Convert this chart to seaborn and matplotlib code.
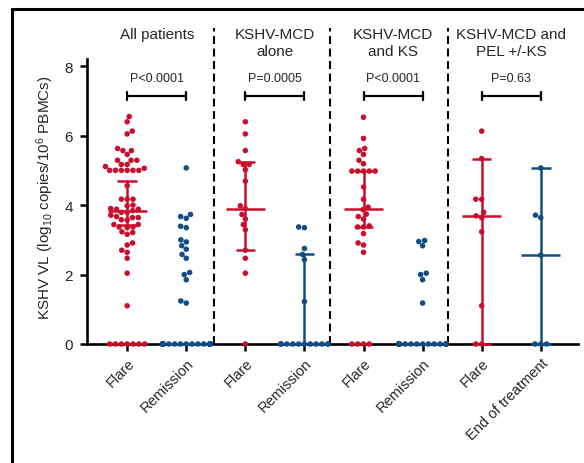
import warnings
import pandas as pd
import matplotlib.pyplot as plt
from matplotlib.lines import Line2D
import seaborn as sns

warnings.filterwarnings("ignore")

# Значения (log10 копий / 10^6 PBMC)
flare_all = [6.55, 6.40, 6.13, 6.05, 5.63, 5.57, 5.57, 5.46, 5.29, 5.29, 5.29,
             5.17, 5.17, 5.11, 5.06, 5.00, 5.00, 5.00, 5.00, 5.00, 5.00, 4.56,
             4.17, 4.17, 4.17, 4.00, 3.98, 3.90, 3.88, 3.88, 3.84, 3.79, 3.79,
             3.71, 3.67, 3.64, 3.64, 3.58, 3.57, 3.44, 3.44, 3.37, 3.37, 3.35,
             3.23, 3.21, 3.16, 2.91, 2.85, 2.70, 2.64, 2.47, 2.04, 1.10,
             0, 0, 0, 0, 0, 0, 0]
rem_all = [5.07, 3.73, 3.67, 3.62, 3.39, 3.35, 3.00, 2.94, 2.83, 2.73, 2.58,
           2.47, 2.06, 2.00, 1.85, 1.24, 1.18] + [0.0] * 44
flare_alone = [6.40, 6.05, 5.57, 5.25, 5.17, 5.17, 5.02, 4.69, 3.98, 3.90,
               3.73, 3.60, 3.44, 3.29, 2.70, 2.47, 2.04, 0.0]
rem_alone = [3.37, 3.35, 2.75, 2.58, 2.43, 1.22] + [0.0] * 12
flare_ks = [6.53, 5.92, 5.63, 5.57, 5.46, 5.29, 5.19, 4.98, 4.98, 4.98, 4.98,
            4.98, 4.52, 4.17, 3.94, 3.87, 3.74, 3.67, 3.60, 3.40, 3.37, 3.37,
            3.18, 2.91, 2.85, 2.64, 0, 0, 0, 0]
rem_ks = [2.98, 2.95, 2.83, 2.04, 2.00, 1.85, 1.18] + [0.0] * 23
flare_pel = [6.13, 5.34, 4.17, 4.17, 3.79, 3.69, 3.64, 3.23, 1.10, 0, 0]
end_pel = [5.07, 3.71, 3.64, 2.56, 0, 0, 0]

# медиана и межквартильный размах, как на рисунке
medians = [3.84, 0, 3.90, 0, 3.90, 0, 3.70, 2.56]
q1 = [3.44, 0, 2.70, 0, 3.37, 0, 0, 0]
q3 = [4.70, 0, 5.25, 2.58, 4.98, 0, 5.34, 5.07]

tick_labels = ["Flare", "Remission", "Flare", "Remission",
               "Flare", "Remission", "Flare", "End of treatment"]
group_titles = ["All patients", "KSHV-MCD\nalone", "KSHV-MCD\nand KS",
                "KSHV-MCD and\nPEL +/-KS"]
p_values = ["P<0.0001", "P=0.0005", "P<0.0001", "P=0.63"]

RED = "#C8102E"
BLUE = "#124D84"


def plot_vl():
    series = [flare_all, rem_all, flare_alone, rem_alone,
              flare_ks, rem_ks, flare_pel, end_pel]
    keys = [f"g{i}" for i in range(len(series))]
    rows = []
    for i, vals in enumerate(series):
        status = "flare" if i % 2 == 0 else "other"
        for v in vals:
            rows.append({"grp": keys[i], "vl": v, "status": status})
    df = pd.DataFrame(rows)

    sns.set_theme(style="white")
    plt.rcParams["font.family"] = ["Liberation Sans", "DejaVu Sans"]
    plt.rcParams["mathtext.fontset"] = "custom"
    plt.rcParams["mathtext.rm"] = "Liberation Sans"
    plt.rcParams["mathtext.it"] = "Liberation Sans:italic"

    fig = plt.figure(figsize=(5.84, 4.64), dpi=100)
    ax = fig.add_axes([87 / 584, 1 - 345 / 464, 491 / 584, 316 / 464])

    sns.swarmplot(data=df, x="grp", y="vl", hue="status", order=keys,
                  palette={"flare": RED, "other": BLUE}, size=4.0,
                  legend=False, linewidth=0, ax=ax, zorder=3)
    for c in ax.collections:
        c.set_clip_on(False)

    # медиана + IQR
    for i in range(len(keys)):
        col = RED if i % 2 == 0 else BLUE
        ax.plot([i - 0.33, i + 0.33], [medians[i]] * 2, color=col, lw=1.8,
                zorder=4, clip_on=False, solid_capstyle="butt")
        if q3[i] > q1[i]:
            ax.plot([i, i], [q1[i], q3[i]], color=col, lw=1.8, zorder=4,
                    clip_on=False)
            for q in (q1[i], q3[i]):
                ax.plot([i - 0.165, i + 0.165], [q, q], color=col, lw=1.8,
                        zorder=4, clip_on=False, solid_capstyle="butt")

    # разделители групп
    for xd in [1.47, 3.43, 5.43]:
        ax.plot([xd, xd], [0, 9.1], color="black", lw=1.5,
                linestyle=(0, (3.8, 2.2)), zorder=2, clip_on=False)

    # заголовки групп, скобки и p-значения
    for k in range(4):
        a, b = 2 * k, 2 * k + 1
        ax.text((a + b) / 2, 9.14, group_titles[k], ha="center", va="top",
                fontsize=11, linespacing=1.3)
        ax.text((a + b) / 2, 7.66, p_values[k], ha="center", va="center",
                fontsize=9)
        ax.plot([a, b], [7.14, 7.14], color="black", lw=1.6)
        for xx in (a, b):
            ax.plot([xx, xx], [7.02, 7.26], color="black", lw=1.6)

    ax.set_xlim(-0.68, 7.63)
    ax.set_ylim(0, 9.1)
    ax.set_yticks([0, 2, 4, 6, 8])
    ax.set_xticks(range(len(keys)))
    ax.set_xticklabels(tick_labels, rotation=45, ha="right",
                       rotation_mode="anchor", fontsize=10.5)
    ax.tick_params(axis="y", labelsize=11, length=5, width=1.8, pad=5,
                   left=True, color="black")
    ax.tick_params(axis="x", length=5, width=1.8, pad=3.5, bottom=True,
                   color="black")
    ax.set_xlabel("")
    ax.set_ylabel(r"KSHV VL (log$_{10}$ copies/10$^{6}$ PBMCs)", fontsize=11,
                  va="center")
    ax.yaxis.set_label_coords(-0.0855, 0.465)

    sns.despine(ax=ax)
    ax.spines["left"].set_bounds(0, 8.2)
    for s in ("left", "bottom"):
        ax.spines[s].set_linewidth(1.9)
        ax.spines[s].set_color("black")
    ax.set_facecolor("none")

    # рамка вокруг рисунка
    fig.add_artist(Line2D([12 / 584, 1.0], [1 - 10 / 464] * 2,
                          color="black", lw=2.2))
    fig.add_artist(Line2D([12 / 584] * 2, [0, 1 - 10 / 464],
                          color="black", lw=2.2))

    fig.savefig("out.png", dpi=100)


if __name__ == "__main__":
    plot_vl()
